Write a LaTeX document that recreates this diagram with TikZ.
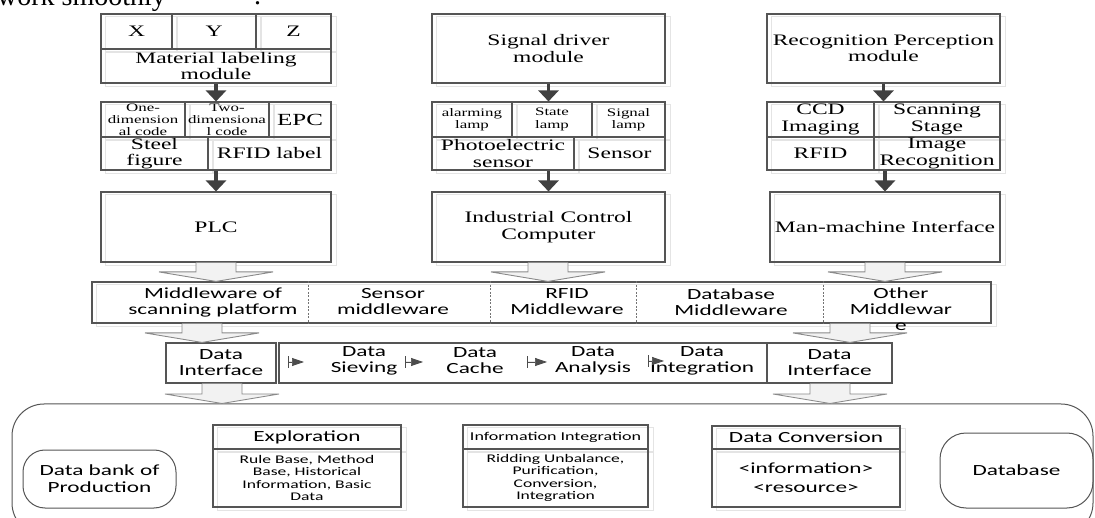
\documentclass[tikz,border=0pt]{standalone}
\usepackage{fontspec}
\usetikzlibrary{arrows.meta,calc,backgrounds}
\newfontfamily\tnr[FakeStretch=1.47]{Liberation Serif}
\newfontfamily\cbr[FakeStretch=1.5]{Carlito}
\newfontfamily\pagefont{Liberation Serif}
\definecolor{lc}{HTML}{555555}
\definecolor{ac}{HTML}{404040}
\definecolor{bf}{HTML}{F2F2F2}
\definecolor{bl}{HTML}{8A8A8A}
\definecolor{sh}{HTML}{E4E4E4}
% box with light offset copy
\newcommand\bx[7][]{%
  \node[cell,#1,minimum width={(#5-#3)*1pt},minimum height={(#6-#4)*1pt}] (#2) at ({(#3+#5)/2},{(#4+#6)/2}) {#7};%
  \begin{scope}[on background layer]\draw[shline] ([shift={(5,3)}]#2.north west) rectangle ([shift={(5,3)}]#2.south east);\end{scope}}
% box without copy
\newcommand\bxn[7][]{%
  \node[cell,#1,minimum width={(#5-#3)*1pt},minimum height={(#6-#4)*1pt}] (#2) at ({(#3+#5)/2},{(#4+#6)/2}) {#7};}
% hollow block arrow: #1 x coordinate, #2 start anchor, #3 end anchor
\newcommand\barrow[3]{%
  \draw[barr] let \p1=(#1|-#2), \p2=(#1|-#3) in
    (\x1-20pt,\y1) -- (\x1-20pt,\y2+9.5pt) -- (\x1-57pt,\y2+9.5pt) -- (\x2,\y2)
    -- (\x1+57pt,\y2+9.5pt) -- (\x1+20pt,\y2+9.5pt) -- (\x1+20pt,\y1);}
\begin{document}
\begin{tikzpicture}[x=1pt,y=-1pt,
  cell/.style={draw=lc,line width=1.1pt,inner sep=0pt,align=center,text=black},
  tX/.style={font=\tnr\fontsize{16}{17}\selectfont},
  tL/.style={font=\tnr\fontsize{16}{16.5}\selectfont},
  tS/.style={font=\tnr\fontsize{11.5}{12.2}\selectfont},
  cL/.style={font=\cbr\fontsize{15.5}{16}\selectfont},
  cS/.style={font=\cbr\fontsize{11.7}{12.5}\selectfont},
  shline/.style={draw=sh,line width=1pt},
  thickarr/.style={draw=ac,line width=3.2pt,-{Triangle[width=20pt,length=11pt]}},
  barr/.style={draw=bl,line width=0.9pt,fill=bf,line join=miter},
  divd/.style={draw=black!55,line width=0.7pt,dash pattern=on 2pt off 1.5pt},
  flowa/.style={draw=black!70,fill=black!70,line width=0.7pt,{Bar[width=12pt]}-{Triangle[length=12pt,width=8pt]}},
  txt/.style={inner sep=0pt,align=center,text=black}
]
\useasboundingbox (0,0) rectangle (1095,518);

% fragment of page text above the figure
\node[anchor=base west,inner sep=0pt,font=\pagefont\fontsize{28}{30}\selectfont] (pg1) at (-3,6) {work smoothly};
\node[anchor=base west,inner sep=0pt,font=\pagefont\fontsize{28}{30}\selectfont] (pg2) at (254,5) {.};

% ---------- column 1 ----------
\bx[tX]{bX}{101}{14}{172}{49}{X}
\bx[tX]{bY}{172}{14}{256}{49}{Y}
\bx[tX]{bZ}{256}{14}{331}{49}{Z}
\bx[tL]{mlm}{101}{49}{331}{83}{Material labeling\\module}
\bx[tS]{one}{101}{102}{185}{137}{One-\\dimension\\al code}
\bx[tS]{two}{185}{102}{269}{137}{Two-\\dimensiona\\l code}
\bx[font=\tnr\fontsize{17}{18}\selectfont]{epc}{269}{102}{331}{137}{EPC}
\bx[tL]{steel}{101}{137}{208}{170}{Steel\\figure}
\bx[tL]{rfidl}{208}{137}{331}{170}{RFID label}
\bx[tL]{plc}{101}{192}{331}{262}{PLC}

% ---------- column 2 ----------
\bx[tL]{sdm}{432}{14}{665}{83}{Signal driver\\module}
\bx[tS]{alarm}{432}{102}{512}{137}{alarming\\lamp}
\bx[tS]{state}{512}{102}{592}{137}{State\\lamp}
\bx[tS]{siglamp}{592}{102}{665}{137}{Signal\\lamp}
\bx[tL]{photo}{432}{137}{574}{170}{Photoelectric\\sensor}
\bx[tL]{sensor}{574}{137}{665}{170}{Sensor}
\bx[tL]{icc}{432}{192}{665}{262}{Industrial Control\\Computer}

% ---------- column 3 ----------
\bx[tL]{rpm}{767}{14}{1000}{83}{Recognition Perception\\module}
\bx[tL]{ccd}{767}{102}{874}{137}{CCD\\Imaging}
\bx[tL]{scan}{874}{102}{1000}{137}{Scanning\\Stage}
\bx[tL]{rfid}{767}{137}{874}{170}{RFID}
\bx[tL]{imgrec}{874}{137}{1000}{170}{Image\\Recognition}
\bx[tL]{mmi}{770}{192}{1000}{262}{Man-machine Interface}

% thick arrows
\draw[thickarr] (mlm.south) -- (mlm.south |- one.north);
\draw[thickarr] (plc.north |- rfidl.south) -- (plc.north);
\draw[thickarr] (sdm.south) -- (sdm.south |- alarm.north);
\draw[thickarr] (icc.north |- photo.south) -- (icc.north);
\draw[thickarr] (rpm.south) -- (rpm.south |- ccd.north);
\draw[thickarr] (mmi.north |- imgrec.south) -- (mmi.north);

% ---------- middleware ----------
\bx{mw}{92}{282}{991}{323}{}
\coordinate (dv1) at (308,0);
\coordinate (dv2) at (490,0);
\coordinate (dv3) at (636,0);
\coordinate (dv4) at (823,0);
\foreach \d in {dv1,dv2,dv3,dv4} \draw[divd] (mw.north -| \d) -- (mw.south -| \d);
\node[txt,cL] (m1) at (213,302) {Middleware of\\scanning platform};
\node[txt,cL] (m2) at (393,302) {Sensor\\middleware};
\node[txt,cL] (m3) at (567,302) {RFID\\Middleware};
\node[txt,cL] (m4) at (731,302) {Database\\Middleware};
\node[txt,cL] (m5) at (901,309) {Other\\Middlewar\\e};

% ---------- data row ----------
\bxn[cL]{di1}{166}{343}{276}{383}{Data\\Interface}
\bxn{flow}{279}{343}{767}{383}{}
\bxn[cL]{di2}{767}{343}{892}{383}{Data\\Interface}
\node[txt,cL] (f1) at (364,361) {Data\\Sieving};
\node[txt,cL] (f2) at (475,361) {Data\\Cache};
\node[txt,cL] (f3) at (593,361) {Data\\Analysis};
\node[txt,cL] (f4) at (702,361) {Data\\Integration};
\coordinate (t1) at (288,362); \coordinate (h1) at (304,362);
\coordinate (t2) at (405,362); \coordinate (h2) at (423,362);
\coordinate (t3) at (527,362); \coordinate (h3) at (547,362);
\coordinate (t4) at (648,361); \coordinate (h4) at (664,361);
\draw[flowa] (t1) -- (h1);
\draw[flowa] (t2) -- (h2);
\draw[flowa] (t3) -- (h3);
\draw[flowa] (t4) -- (h4);

% ---------- bottom container ----------
\node[draw=lc,line width=1pt,rounded corners=32pt,inner sep=0pt,minimum width=1081pt,minimum height=131pt] (cont) at (552.5,469.5) {};
\node[draw=lc,line width=1pt,rounded corners=22pt,inner sep=0pt,minimum width=153pt,minimum height=58pt,align=center,font=\cbr\fontsize{15.5}{17}\selectfont] (bank) at (99.5,479) {Data bank of\\Production};
\bx[cL]{explt}{213}{425}{401}{449}{Exploration}
\bx[cS]{explb}{213}{449}{401}{507}{Rule Base, Method\\Base, Historical\\Information, Basic\\Data}
\bx[font=\cbr\fontsize{12}{13}\selectfont]{infot}{463}{425}{648}{449}{Information Integration}
\bx[cS]{infob}{463}{449}{648}{507}{Ridding Unbalance,\\Purification,\\Conversion,\\Integration}
\bx[cL]{dct}{712}{426}{900}{449}{Data Conversion}
\bx[font=\cbr\fontsize{15.5}{19}\selectfont]{dcb}{712}{449}{900}{507}{<information>\\<resource>}
\node[draw=lc,line width=1pt,rounded corners=26pt,inner sep=0pt,minimum width=153pt,minimum height=75pt,cL] (dbase) at (1016.5,470.5) {Database};

% ---------- hollow block arrows ----------
\coordinate (xa1) at (216,0);
\coordinate (xa2) at (548,0);
\coordinate (xa3) at (885,0);
\coordinate (xa4) at (202,0);
\coordinate (xa5) at (850,0);
\coordinate (xa6) at (222,0);
\coordinate (xa7) at (830,0);
\barrow{xa1}{plc.south}{mw.north}
\barrow{xa2}{icc.south}{mw.north}
\barrow{xa3}{mmi.south}{mw.north}
\barrow{xa4}{mw.south}{di1.north}
\barrow{xa5}{mw.south}{di2.north}
\barrow{xa6}{di1.south}{cont.north}
\barrow{xa7}{di2.south}{cont.north}
\end{tikzpicture}
\end{document}
